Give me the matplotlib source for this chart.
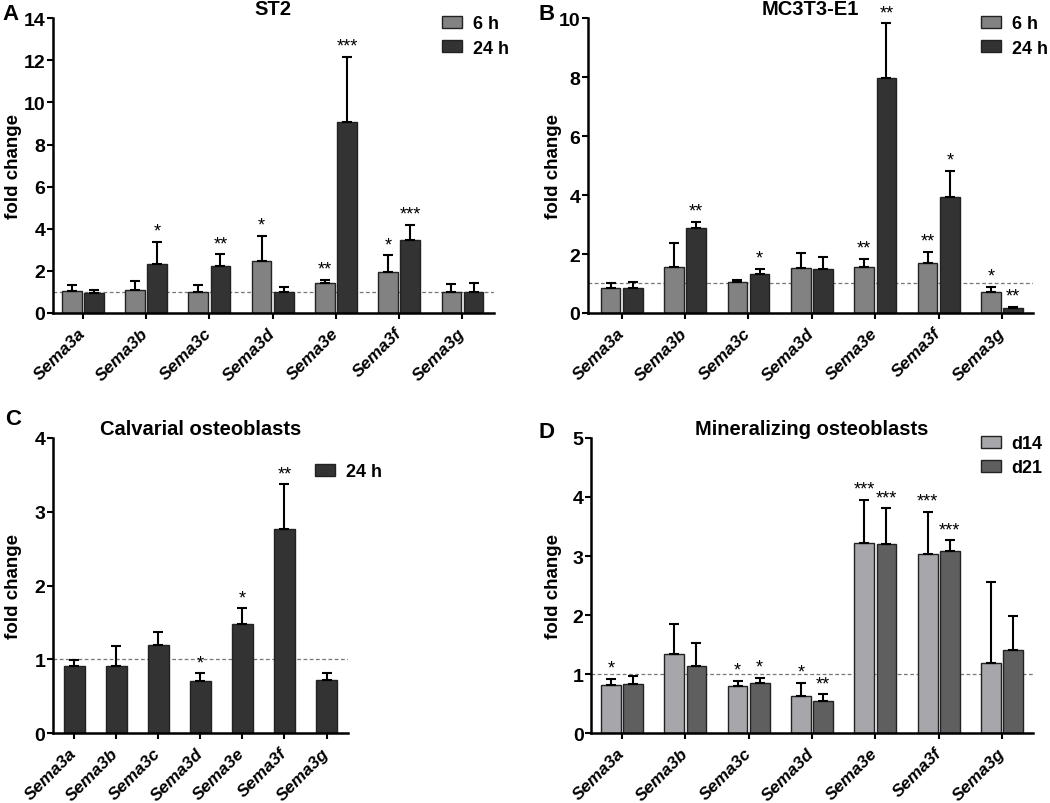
import numpy as np
import matplotlib
matplotlib.use("Agg")
import matplotlib.pyplot as plt

plt.rcParams['font.family'] = ['Liberation Sans', 'DejaVu Sans']
plt.rcParams['font.weight'] = 'bold'

genes = ['Sema3a', 'Sema3b', 'Sema3c', 'Sema3d', 'Sema3e', 'Sema3f', 'Sema3g']

# A: ST2
st2_6h = [1.04, 1.08, 1.01, 2.48, 1.42, 1.93, 0.98]
st2_6h_err = [0.27, 0.42, 0.33, 1.19, 0.16, 0.82, 0.38]
st2_6h_sig = ['', '', '', '*', '**', '*', '']
st2_24h = [0.95, 2.31, 2.22, 1.00, 9.08, 3.45, 1.01]
st2_24h_err = [0.13, 1.06, 0.56, 0.22, 3.10, 0.74, 0.40]
st2_24h_sig = ['', '*', '**', '', '***', '***', '']

# B: MC3T3-E1
mc_6h = [0.85, 1.55, 1.05, 1.53, 1.55, 1.69, 0.72]
mc_6h_err = [0.17, 0.82, 0.07, 0.50, 0.29, 0.38, 0.17]
mc_6h_sig = ['', '', '', '', '**', '**', '*']
mc_24h = [0.85, 2.87, 1.32, 1.50, 7.98, 3.94, 0.17]
mc_24h_err = [0.21, 0.23, 0.17, 0.40, 1.85, 0.88, 0.04]
mc_24h_sig = ['', '**', '*', '', '**', '*', '**']

# C: calvarial osteoblasts
cal_24h = [0.91, 0.91, 1.19, 0.70, 1.48, 2.77, 0.72]
cal_24h_err = [0.08, 0.27, 0.18, 0.11, 0.21, 0.60, 0.10]
cal_24h_sig = ['', '', '', '*', '*', '**', '']

# D: mineralizing osteoblasts
min_d14 = [0.81, 1.34, 0.79, 0.63, 3.22, 3.03, 1.18]
min_d14_err = [0.11, 0.50, 0.10, 0.22, 0.73, 0.72, 1.38]
min_d14_sig = ['*', '', '*', '*', '***', '***', '']
min_d21 = [0.83, 1.14, 0.84, 0.55, 3.21, 3.08, 1.41]
min_d21_err = [0.14, 0.38, 0.10, 0.11, 0.60, 0.19, 0.58]
min_d21_sig = ['', '', '*', '**', '***', '***', '']

C_6H = '#828282'
C_24H = '#333333'
C_D14 = '#a7a7ab'
C_D21 = '#5f5f5f'


def bars(ax, x, vals, errs, sigs, color, width, label):
    ax.bar(x, vals, width, color=color, edgecolor='#222222', linewidth=1.0,
           label=label, zorder=2)
    ax.errorbar(x, vals, yerr=[np.zeros(len(vals)), errs], fmt='none',
                ecolor='black', elinewidth=1.5, capsize=3.3, capthick=1.5,
                zorder=3)
    for xi, v, e, s in zip(x, vals, errs, sigs):
        if s:
            ax.annotate(s, (xi, v + e), xytext=(0, 1.5), textcoords='offset points',
                        ha='center', va='bottom', fontsize=13, fontweight='normal')


def style(ax, title, ymax, ystep, xlim, ylab_x):
    ax.set_xlim(*xlim)
    ax.set_ylim(0, ymax)
    ax.set_yticks(np.arange(0, ymax + 0.01, ystep))
    ax.set_xticks(range(len(genes)))
    ax.set_xticklabels(genes, rotation=45, ha='right', va='center',
                       rotation_mode='anchor', fontstyle='italic',
                       fontsize=12.5, fontweight='bold')
    ax.tick_params(axis='x', pad=8)
    ax.tick_params(axis='y', labelsize=14, pad=1)
    ax.tick_params(width=1.5, length=4.5, direction='out')
    for sp in ['top', 'right']:
        ax.spines[sp].set_visible(False)
    for sp in ['left', 'bottom']:
        ax.spines[sp].set_linewidth(1.8)
    ax.axhline(1, color='#777777', linestyle=(0, (3, 2)), linewidth=0.9, zorder=1)
    ax.set_ylabel('fold change', fontsize=13.5, fontweight='bold')
    ax.yaxis.set_label_coords(ylab_x, 0.5)
    ax.set_title(title, fontsize=14.5, fontweight='bold', pad=-1)


fig = plt.figure(figsize=(10.5, 8.04), dpi=100)
axA = fig.add_axes([0.0505, 0.6095, 0.4195, 0.3665])
axB = fig.add_axes([0.560, 0.6095, 0.424, 0.3665])
axC = fig.add_axes([0.0505, 0.087, 0.2805, 0.367])
axD = fig.add_axes([0.563, 0.087, 0.421, 0.367])

x = np.arange(len(genes))
off = 0.175
w = 0.31

bars(axA, x - off, st2_6h, st2_6h_err, st2_6h_sig, C_6H, w, '6 h')
bars(axA, x + off, st2_24h, st2_24h_err, st2_24h_sig, C_24H, w, '24 h')
style(axA, 'ST2', 14, 2, (-0.47, 6.49), -0.070)

bars(axB, x - off, mc_6h, mc_6h_err, mc_6h_sig, C_6H, w, '6 h')
bars(axB, x + off, mc_24h, mc_24h_err, mc_24h_sig, C_24H, w, '24 h')
style(axB, 'MC3T3-E1', 10, 2, (-0.53, 6.49), -0.058)

bars(axC, x, cal_24h, cal_24h_err, cal_24h_sig, C_24H, 0.5, '24 h')
style(axC, 'Calvarial osteoblasts', 4, 1, (-0.5, 6.5), -0.105)

bars(axD, x - off, min_d14, min_d14_err, min_d14_sig, C_D14, w, 'd14')
bars(axD, x + off, min_d21, min_d21_err, min_d21_sig, C_D21, w, 'd21')
style(axD, 'Mineralizing osteoblasts', 5, 1, (-0.485, 6.49), -0.066)

leg_kw = dict(frameon=False, loc='upper left', borderaxespad=0, borderpad=0,
              handlelength=1.1, handleheight=0.65, handletextpad=0.6,
              labelspacing=0.4, prop={'weight': 'bold', 'size': 13})
axA.legend(bbox_to_anchor=(0.884, 1.01), **leg_kw)
axB.legend(bbox_to_anchor=(0.883, 1.01), **leg_kw)
axC.legend(bbox_to_anchor=(0.89, 0.915), **leg_kw)
axD.legend(bbox_to_anchor=(0.882, 1.01), **leg_kw)

for lab, (px, py) in zip('ABCD', [(2, 14), (538, 14), (5, 420), (538, 433)]):
    fig.text(px / 1050, 1 - py / 804, lab, fontsize=16, fontweight='bold',
             ha='left', va='center')

fig.savefig('out.png', dpi=100)
